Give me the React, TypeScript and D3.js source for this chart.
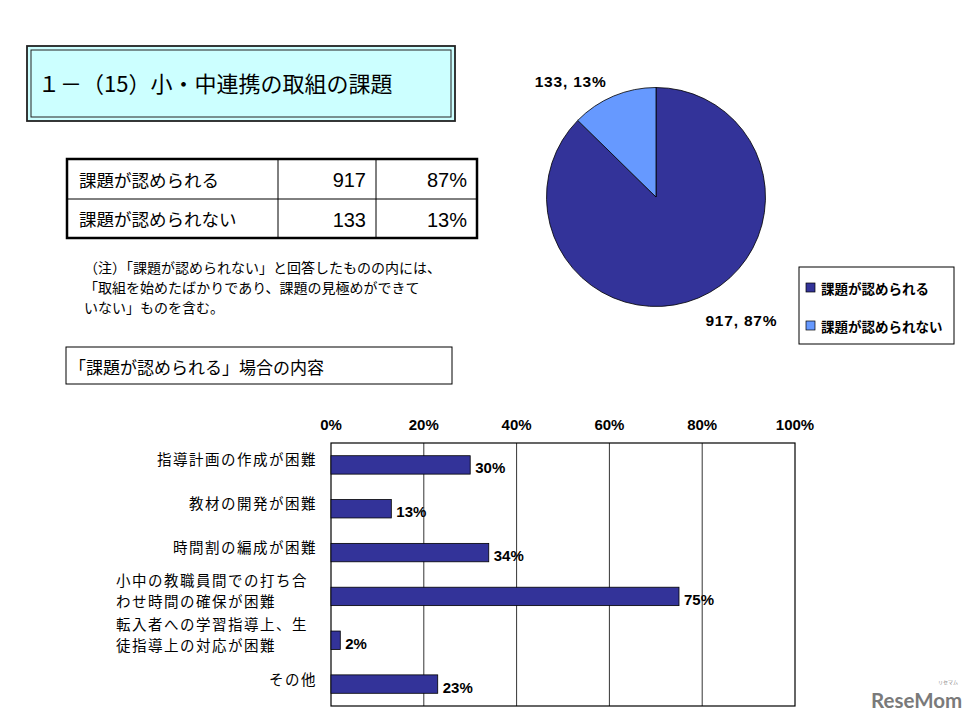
import React from 'react';
import * as d3 from 'd3';

const summaryLabels = ['課題が認められる', '課題が認められない'];
const summaryCounts = [917, 133];
const summaryPercents = [87, 13];
const sliceColors = ['#333399', '#6699ff'];

const categories = [
  ['指導計画の作成が困難'],
  ['教材の開発が困難'],
  ['時間割の編成が困難'],
  ['小中の教職員間での打ち合', 'わせ時間の確保が困難'],
  ['転入者への学習指導上、生', '徒指導上の対応が困難'],
  ['その他'],
];
const categoryValues = [30, 13, 34, 75, 2, 23];
const xTicks = [0, 20, 40, 60, 80, 100];

const noteLines = [
  '（注）「課題が認められない」と回答したものの内には、',
  '「取組を始めたばかりであり、課題の見極めができて',
  'いない」ものを含む。',
];

const JP = '"Noto Sans CJK JP", "Noto Sans", sans-serif';
const NARROW = '"Liberation Sans Narrow", "Liberation Sans", Arial, sans-serif';

const App: React.FC = () => {
  const width = 979, height = 727;

  // pie
  const cx = 656, cy = 197, r = 109.5;
  const pie = d3.pie<number>().sort(null).value((d) => d);
  const arcs = pie(summaryCounts);
  const arc = d3.arc<d3.PieArcDatum<number>>().innerRadius(0).outerRadius(r);

  // bars
  const x = d3.scaleLinear().domain([0, 100]).range([331, 795]);
  const y = d3.scaleBand<string>()
    .domain(categories.map((c) => c.join('')))
    .range([443, 706])
    .paddingInner(0.58)
    .paddingOuter(0.29);

  // table
  const colX = [67, 278, 376, 477];
  const rowY = [159, 199, 238];

  return (
    <div style={{ position: 'absolute', left: 0, top: 0 }}>
      <svg width={width} height={height} viewBox={`0 0 ${width} ${height}`} style={{ display: 'block', background: '#fff' }}>
        {/* title box */}
        <rect x={27} y={46} width={428} height={75} fill="#ccffff" stroke="#222" strokeWidth={1.8} />
        <rect x={31} y={50} width={420} height={67} fill="none" stroke="#222" strokeWidth={1} />
        <text x={38} y={92} fontFamily={JP} fontSize={22} fill="#000">１－（15）小・中連携の取組の課題</text>

        {/* summary table */}
        <rect x={colX[0]} y={rowY[0]} width={colX[3] - colX[0]} height={rowY[2] - rowY[0]} fill="#fff" stroke="#000" strokeWidth={2.5} />
        <line x1={colX[0]} x2={colX[3]} y1={rowY[1]} y2={rowY[1]} stroke="#000" strokeWidth={1} />
        {[colX[1], colX[2]].map((cxp) => (
          <line key={cxp} x1={cxp} x2={cxp} y1={rowY[0]} y2={rowY[2]} stroke="#000" strokeWidth={1} />
        ))}
        {summaryLabels.map((lab, i) => {
          const yc = (rowY[i] + rowY[i + 1]) / 2;
          return (
            <g key={lab} fontFamily={JP} fill="#000">
              <text x={colX[0] + 12} y={yc} dominantBaseline="central" fontSize={17.5}>{lab}</text>
              <text x={colX[2] - 10} y={yc + 1} dominantBaseline="central" textAnchor="end" fontSize={20} fontFamily="'Liberation Sans', Arial, sans-serif">{summaryCounts[i]}</text>
              <text x={colX[3] - 10} y={yc + 1} dominantBaseline="central" textAnchor="end" fontSize={20} fontFamily={NARROW}>{summaryPercents[i]}%</text>
            </g>
          );
        })}

        {/* note */}
        {noteLines.map((l, i) => (
          <text key={i} x={84} y={273 + i * 20} fontFamily={JP} fontSize={14} fill="#000">{l}</text>
        ))}

        {/* pie */}
        <g transform={`translate(${cx},${cy})`}>
          {arcs.map((a, i) => (
            <path key={i} d={arc(a) || ''} fill={sliceColors[i]} stroke="#000" strokeWidth={0.8} />
          ))}
          {arcs.map((a, i) => {
            const mid = (a.startAngle + a.endAngle) / 2;
            const lr = r + 18;
            const lx = lr * Math.sin(mid);
            const ly = -lr * Math.cos(mid);
            return (
              <text key={`l${i}`} x={lx} y={ly} textAnchor={lx > 0 ? 'start' : 'end'}
                dy={ly < 0 ? 8 : 11}
                fontFamily={NARROW} fontWeight="bold" fontSize={15.5} fill="#000" letterSpacing={0.8}>
                {summaryCounts[i]}, {summaryPercents[i]}%
              </text>
            );
          })}
        </g>

        {/* legend */}
        <rect x={799} y={267} width={155} height={77} fill="#fff" stroke="#000" strokeWidth={1} />
        {summaryLabels.map((lab, i) => (
          <g key={lab} transform={`translate(806,${288 + i * 38})`}>
            <rect x={0} y={-5} width={9} height={9} fill={sliceColors[i]} stroke="#000" strokeWidth={0.7} />
            <text x={15} y={0} dominantBaseline="central" fontFamily={JP} fontWeight="bold" fontSize={13.5} fill="#000">{lab}</text>
          </g>
        ))}

        {/* subtitle box */}
        <rect x={66} y={347} width={386} height={37} fill="#fff" stroke="#000" strokeWidth={1} />
        <text x={69} y={366} dominantBaseline="central" fontFamily={JP} fontSize={17} fill="#000">「課題が認められる」場合の内容</text>

        {/* bar chart */}
        {xTicks.map((t) => (
          <g key={t}>
            <text x={x(t)} y={424} textAnchor="middle" dominantBaseline="central" fontFamily={NARROW} fontWeight="bold" fontSize={15} fill="#000">{t}%</text>
            {t > 0 && t < 100 && (
              <line x1={x(t)} x2={x(t)} y1={443} y2={706} stroke="#000" strokeWidth={0.8} />
            )}
          </g>
        ))}
        <rect x={x(0)} y={443} width={x(100) - x(0)} height={706 - 443} fill="none" stroke="#000" strokeWidth={1.2} />
        {categories.map((c, i) => {
          const key = c.join('');
          const yb = y(key) || 0;
          const yc = yb + y.bandwidth() / 2;
          const v = categoryValues[i];
          const lineH = 21;
          const top = yc - 6 - ((c.length - 1) * lineH) / 2;
          const blockX = c.length > 1 ? 116 : 317;
          return (
            <g key={key}>
              <rect x={x(0)} y={yb} width={x(v) - x(0)} height={y.bandwidth()} fill="#333399" stroke="#000" strokeWidth={0.8} />
              <text x={x(v) + 5} y={yc + 3} dominantBaseline="central" fontFamily={NARROW} fontWeight="bold" fontSize={15} fill="#000">{v}%</text>
              {c.map((line, j) => (
                <text key={j} x={blockX} y={top + j * lineH} textAnchor={c.length > 1 ? 'start' : 'end'}
                  dominantBaseline="central" fontFamily={JP} fontSize={14.5} letterSpacing={1.5} fill="#000">{line}</text>
              ))}
            </g>
          );
        })}

        {/* watermark */}
        <text x={871} y={708} fontFamily="Lato, 'DejaVu Sans', sans-serif" fontWeight="bold" fontSize={20.5} fill="#7a7a7a">ReseMom</text>
        <text x={938} y={684} fontFamily={JP} fontSize={5} fill="#888">リセマム</text>
      </svg>
    </div>
  );
};

export default App;
